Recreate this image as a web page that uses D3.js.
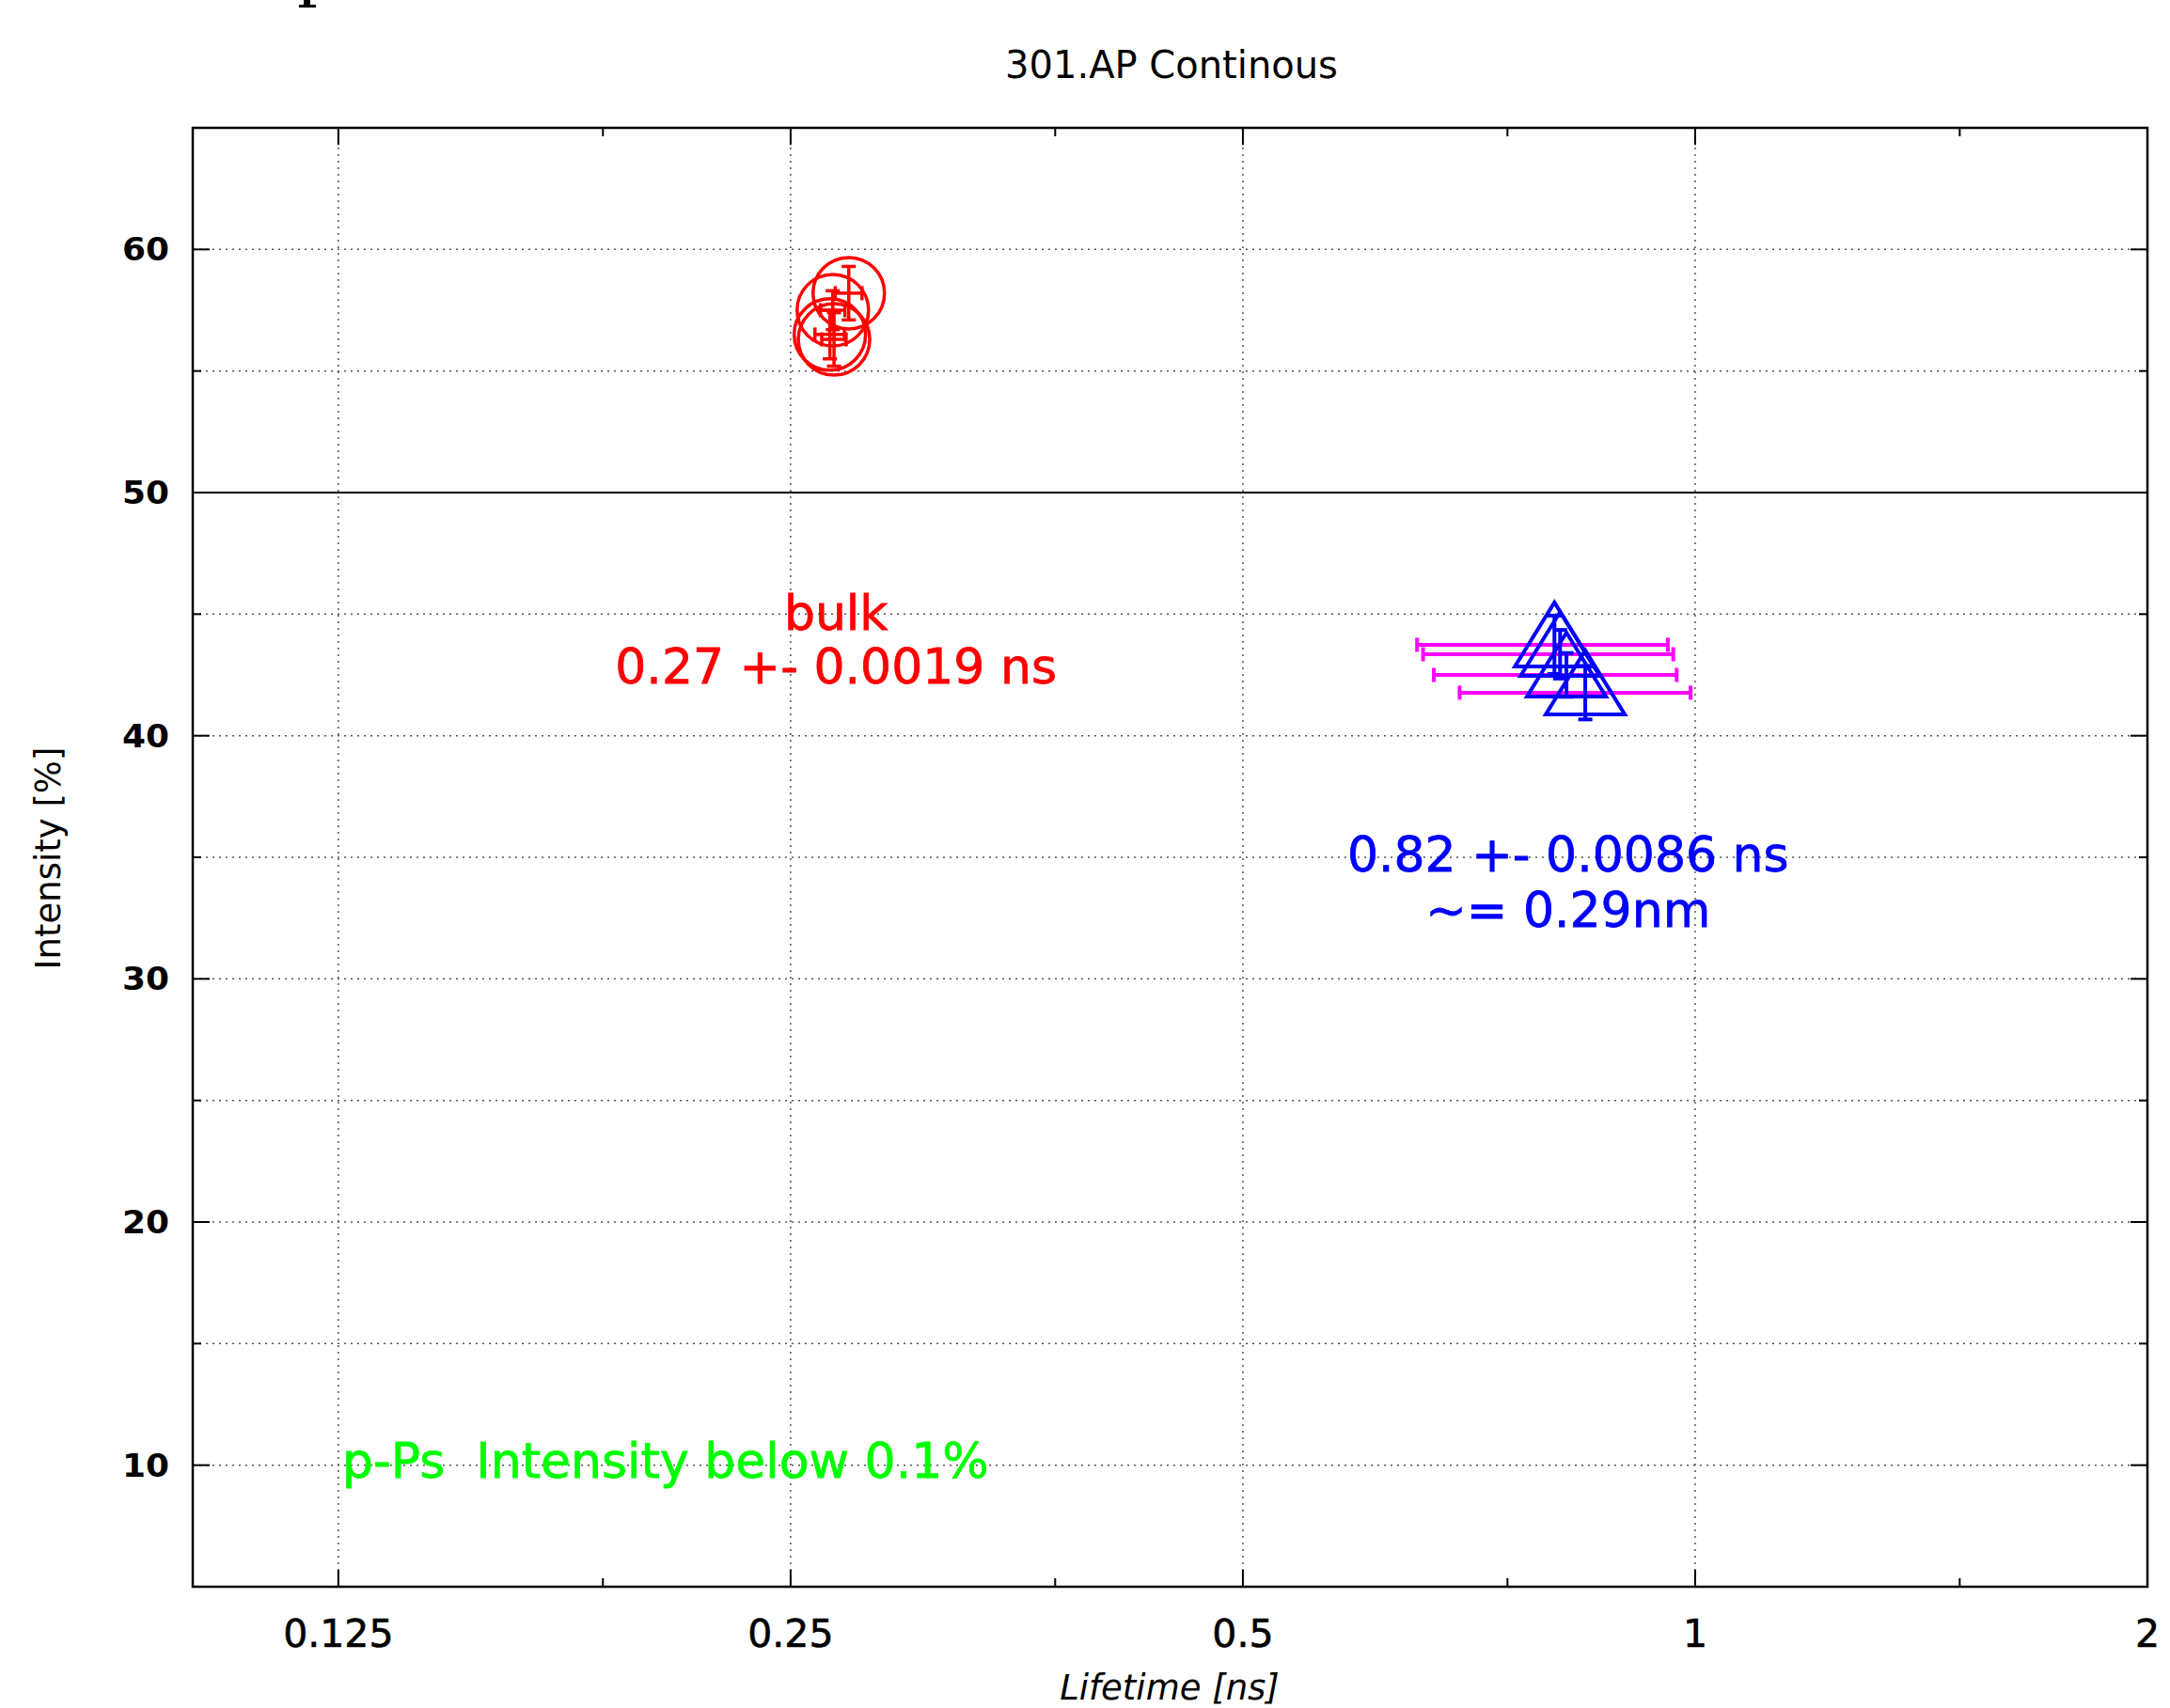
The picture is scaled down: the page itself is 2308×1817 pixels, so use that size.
<!DOCTYPE html>
<html>
<head>
<meta charset="utf-8">
<script src="https://cdn.jsdelivr.net/npm/d3@7"></script>
<style>
  html, body { margin: 0; padding: 0; background: #fff; }
  text { font-family: "DejaVu Sans", sans-serif; white-space: pre; }
</style>
</head>
<body>
<svg id="chart"></svg>
<script>
// red series: bulk component
const redLifetime = [0.2733, 0.2667, 0.2655, 0.2672];
const redIntensity = [58.2, 57.5, 56.5, 56.3];
const redLifetimeErr = [0.0056, 0.005, 0.006, 0.005];
const redIntensityErr = [1.1, 0.8, 1.0, 1.1];

// blue series: second component
const blueLifetime = [0.806, 0.813, 0.821, 0.845];
const blueIntensity = [43.74, 43.35, 42.5, 41.77];
const blueLifetimeErr = [0.153, 0.154, 0.151, 0.148];
const blueIntensityErr = [1.2, 1.0, 0.9, 1.1];

const xTicks = [0.125, 0.25, 0.5, 1, 2];
const xTickLabels = ["0.125", "0.25", "0.5", "1", "2"];
const xMinorTicks = [0.1875, 0.375, 0.75, 1.5];
const yTicks = [10, 20, 30, 40, 50, 60];
const yMinorTicks = [15, 25, 35, 45, 55];

const W = 2308, H = 1817;
const pL = 205, pR = 2284, pT = 136, pB = 1688;

const svg = d3.select("#chart").attr("width", W).attr("height", H);
svg.append("rect").attr("width", W).attr("height", H).attr("fill", "#fff");

const x = d3.scaleLog().base(2).domain([0.1, 2]).range([pL, pR]);
const y = d3.scaleLinear().domain([5, 65]).range([pB, pT]);

// fragment of a cropped glyph at the top edge of the page
svg.append("rect").attr("x", 323).attr("y", 0).attr("width", 7).attr("height", 7).attr("fill", "#000");
svg.append("rect").attr("x", 318).attr("y", 5).attr("width", 18).attr("height", 3).attr("fill", "#000");

// grid
const grid = svg.append("g").attr("stroke", "#555").attr("stroke-width", 1.5)
    .attr("stroke-dasharray", "2,5");
grid.selectAll(".gx").data(xTicks.filter(d => d < 2)).enter().append("line")
    .attr("x1", d => x(d)).attr("x2", d => x(d))
    .attr("y1", pT).attr("y2", pB);
grid.selectAll(".gy").data(yTicks.concat(yMinorTicks).filter(d => d !== 50)).enter().append("line")
    .attr("x1", pL).attr("x2", pR)
    .attr("y1", d => y(d)).attr("y2", d => y(d));

// solid line at 50 %
svg.append("line")
    .attr("x1", pL).attr("x2", pR)
    .attr("y1", y(50)).attr("y2", y(50))
    .attr("stroke", "#000").attr("stroke-width", 2);

// axes (ticks inward, mirrored)
const majorLen = 18, minorLen = 9;
const tickG = svg.append("g").attr("stroke", "#000").attr("stroke-width", 2);
const xAll = xTicks.map(v => [v, majorLen]).concat(xMinorTicks.map(v => [v, minorLen]));
xAll.forEach(([v, len]) => {
    tickG.append("line").attr("x1", x(v)).attr("x2", x(v)).attr("y1", pB).attr("y2", pB - len);
    tickG.append("line").attr("x1", x(v)).attr("x2", x(v)).attr("y1", pT).attr("y2", pT + len);
});
const yAll = yTicks.map(v => [v, majorLen]).concat(yMinorTicks.map(v => [v, minorLen]));
yAll.forEach(([v, len]) => {
    tickG.append("line").attr("x1", pL).attr("x2", pL + len).attr("y1", y(v)).attr("y2", y(v));
    tickG.append("line").attr("x1", pR).attr("x2", pR - len).attr("y1", y(v)).attr("y2", y(v));
});

svg.append("rect")
    .attr("x", pL).attr("y", pT)
    .attr("width", pR - pL).attr("height", pB - pT)
    .attr("fill", "none").attr("stroke", "#000").attr("stroke-width", 2.5);

// tick labels
svg.selectAll(".xl").data(xTicks).enter().append("text")
    .attr("x", d => x(d)).attr("y", 1752)
    .attr("text-anchor", "middle")
    .style("font-size", "41px")
    .attr("stroke", "#000").attr("stroke-width", 0.6)
    .text((d, i) => xTickLabels[i]);

svg.selectAll(".yl").data(yTicks).enter().append("text")
    .attr("x", 180).attr("y", d => y(d) + 12)
    .attr("text-anchor", "end")
    .attr("textLength", 50).attr("lengthAdjust", "spacingAndGlyphs")
    .style("font-size", "33px").style("font-weight", "bold")
    .text(d => d);

// titles
svg.append("text").attr("x", 1246).attr("y", 83).attr("text-anchor", "middle")
    .style("font-size", "40px").text("301.AP Continous");
svg.append("text").attr("x", 1244).attr("y", 1808).attr("text-anchor", "middle")
    .style("font-size", "37px").style("font-style", "italic").text("Lifetime [ns]");
svg.append("text").attr("transform", "translate(64,913) rotate(-90)")
    .attr("text-anchor", "middle")
    .style("font-size", "37px").text("Intensity [%]");

// blue series: magenta x error bars underneath
const cap = 7.5;
const blue = blueLifetime.map((v, i) => ({
    x: v, y: blueIntensity[i], dx: blueLifetimeErr[i], dy: blueIntensityErr[i]
}));
const xeb = svg.append("g").attr("stroke", "#ff00ff").attr("stroke-width", 4);
blue.forEach(d => {
    const cy = y(d.y), x0 = x(d.x - d.dx), x1 = x(d.x + d.dx);
    xeb.append("line").attr("x1", x0).attr("x2", x1).attr("y1", cy).attr("y2", cy);
    xeb.append("line").attr("x1", x0).attr("x2", x0).attr("y1", cy - cap).attr("y2", cy + cap);
    xeb.append("line").attr("x1", x1).attr("x2", x1).attr("y1", cy - cap).attr("y2", cy + cap);
});

// red series: circles with x and y error bars
const red = redLifetime.map((v, i) => ({
    x: v, y: redIntensity[i], dx: redLifetimeErr[i], dy: redIntensityErr[i]
}));
const rg = svg.append("g").attr("stroke", "#ff0000").attr("stroke-width", 3.5).attr("fill", "none");
red.forEach(d => {
    const cx = x(d.x), cy = y(d.y);
    const y0 = y(d.y - d.dy), y1 = y(d.y + d.dy);
    const x0 = x(d.x - d.dx), x1 = x(d.x + d.dx);
    rg.append("line").attr("x1", cx).attr("x2", cx).attr("y1", y0).attr("y2", y1);
    rg.append("line").attr("x1", cx - cap).attr("x2", cx + cap).attr("y1", y0).attr("y2", y0);
    rg.append("line").attr("x1", cx - cap).attr("x2", cx + cap).attr("y1", y1).attr("y2", y1);
    rg.append("line").attr("x1", x0).attr("x2", x1).attr("y1", cy).attr("y2", cy);
    rg.append("line").attr("x1", x0).attr("x2", x0).attr("y1", cy - cap).attr("y2", cy + cap);
    rg.append("line").attr("x1", x1).attr("x2", x1).attr("y1", cy - cap).attr("y2", cy + cap);
    rg.append("circle").attr("cx", cx).attr("cy", cy).attr("r", 38);
});

// blue triangles with y error bars
const bg = svg.append("g").attr("stroke", "#0000ff").attr("stroke-width", 4).attr("fill", "none");
blue.forEach(d => {
    const cx = x(d.x), cy = y(d.y);
    const y0 = y(d.y - d.dy), y1 = y(d.y + d.dy);
    bg.append("line").attr("x1", cx).attr("x2", cx).attr("y1", y0).attr("y2", y1);
    bg.append("line").attr("x1", cx - cap).attr("x2", cx + cap).attr("y1", y0).attr("y2", y0);
    bg.append("line").attr("x1", cx - cap).attr("x2", cx + cap).attr("y1", y1).attr("y2", y1);
    bg.append("path")
        .attr("d", `M${cx},${cy - 45} L${cx + 42},${cy + 23} L${cx - 42},${cy + 23} Z`);
});

// annotations
const note = (tx, ty, color, str, anchor) => svg.append("text")
    .attr("x", tx).attr("y", ty).attr("text-anchor", anchor)
    .attr("fill", color).attr("stroke", color).attr("stroke-width", 0.8)
    .style("font-size", "52px").text(str);
note(x(0.268), 670, "#ff0000", "bulk", "middle");
note(x(0.268), 727, "#ff0000", "0.27 +- 0.0019 ns", "middle");
note(x(0.823), 927, "#0000ff", "0.82 +- 0.0086 ns", "middle");
note(x(0.823), 986, "#0000ff", "~= 0.29nm", "middle");
note(364, 1572, "#00ff00", "p-Ps  Intensity below 0.1%", "start");
</script>
</body>
</html>
